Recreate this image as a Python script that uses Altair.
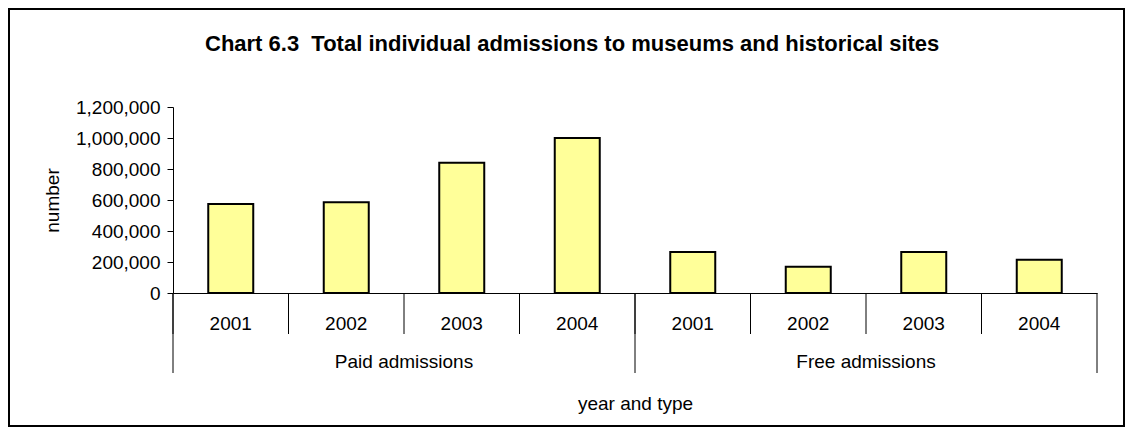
import altair as alt
import pandas as pd

title_text = "Chart 6.3\u00a0 Total individual admissions to museums and historical sites"
years = ["2001", "2002", "2003", "2004"]
types = ["Paid admissions", "Free admissions"]
paid = [575000, 585000, 840000, 1000000]
free = [265000, 170000, 265000, 215000]
y_ticks = [0, 200000, 400000, 600000, 800000, 1000000, 1200000]

keys = []
rows = []
for t, vals in zip(types, [paid, free]):
    for yr, v in zip(years, vals):
        k = f"{t}|{yr}"
        keys.append(k)
        rows.append({"key": k, "year": yr, "type": t, "value": v})
df = pd.DataFrame(rows)

first_df = pd.DataFrame({"key": [f"{t}|{years[0]}" for t in types]})
last_df = pd.DataFrame({"key": [keys[-1]]})
mid_df = pd.DataFrame({"key": [f"{t}|{years[2]}" for t in types], "type": types})

FONT = "Liberation Sans"
W, H = 924, 186
FS = 19

xscale = alt.Scale(type="band", domain=keys, paddingInner=0, paddingOuter=0)
yscale = alt.Scale(domain=[0, 1200000], nice=False)

x_axis = alt.Axis(
    title="year and type", labelExpr="split(datum.value, '|')[1]", labelAngle=0,
    labelBaseline="middle", labelPadding=30, ticks=False, tickSize=0,
    domainColor="#000000", domainWidth=1, grid=False, labelOverlap=False,
    labelFont=FONT, labelFontSize=FS, labelColor="#000000",
    titleFont=FONT, titleFontSize=FS, titleFontWeight="normal", titleColor="#000000",
    titleX=W / 2, titleY=110, titleBaseline="middle", titleAlign="center",
)

bars = alt.Chart(df).mark_bar(size=45, fill="#FFFF99", stroke="#000000", strokeWidth=2).encode(
    x=alt.X("key:N", scale=xscale, sort=keys, axis=x_axis),
    y=alt.Y(
        "value:Q", scale=yscale,
        axis=alt.Axis(
            title="number", values=y_ticks, format=",.0f", grid=False,
            tickSize=6, tickColor="#000000", domainColor="#000000", labelPadding=7,
            labelFont=FONT, labelFontSize=FS, labelColor="#000000",
            titleFont=FONT, titleFontSize=FS, titleFontWeight="normal", titleColor="#000000",
            titleX=-115, titleY=H / 2, titleBaseline="alphabetic", titleAlign="center", titleAngle=270,
        ),
    ),
)

year_rules = alt.Chart(df).mark_rule(color="#000000", strokeWidth=1).encode(
    x=alt.X("key:N", scale=xscale, sort=keys, bandPosition=0, axis=x_axis),
    y=alt.value(H), y2=alt.value(227),
)

group_rules = alt.Chart(first_df).mark_rule(color="#000000", strokeWidth=1).encode(
    x=alt.X("key:N", scale=xscale, bandPosition=0, axis=x_axis),
    y=alt.value(H), y2=alt.value(266),
)

end_rule = alt.Chart(last_df).mark_rule(color="#000000", strokeWidth=1).encode(
    x=alt.X("key:N", scale=xscale, bandPosition=1, axis=x_axis),
    y=alt.value(H), y2=alt.value(266),
)

group_text = alt.Chart(mid_df).mark_text(font=FONT, fontSize=FS, baseline="middle", align="center", color="#000000").encode(
    x=alt.X("key:N", scale=xscale, bandPosition=0, axis=x_axis),
    y=alt.value(255),
    text="type:N",
)

border = alt.Chart(pd.DataFrame({"b": [0]})).mark_rect(fill="#ffffff", fillOpacity=0, stroke="#000000", strokeWidth=2).encode(
    x=alt.value(-164), x2=alt.value(951), y=alt.value(-98), y2=alt.value(319),
)

chart = alt.layer(border, bars, year_rules, group_rules, end_rule, group_text).properties(
    width=W, height=H,
    title=alt.TitleParams(
        text=title_text, anchor="start", frame="group", dx=32, dy=65, offset=0,
        font=FONT, fontSize=22, fontWeight="bold", color="#000000", baseline="alphabetic",
    ),
    autosize=alt.AutoSizeParams(type="none"),
    padding={"left": 165, "top": 99, "right": 29, "bottom": 135},
    background="#ffffff",
).configure_view(stroke=None)

chart.save("out.html", embed_options={"renderer": "svg", "actions": False})
